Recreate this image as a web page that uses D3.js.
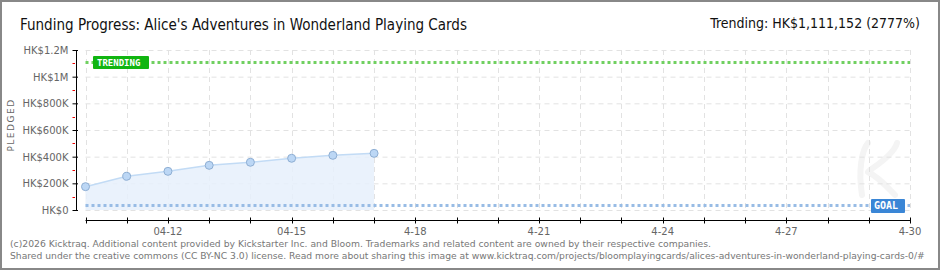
<!DOCTYPE html>
<html>
<head>
    <title>Funding Progress</title>
    <script src="https://d3js.org/d3.v7.min.js"></script>
    <style>
        body { margin: 0; padding: 0; background: #fff; }
        svg { display: block; }
        .title { font-family: 'Liberation Sans Narrow', 'DejaVu Sans Condensed', 'Roboto', sans-serif; font-size: 16px; fill: #111; }
        .axis-label { font-family: 'DejaVu Sans', sans-serif; font-size: 10px; fill: #666; }
        .footer { font-family: 'DejaVu Sans', sans-serif; font-size: 9.5px; fill: #777; }
        .badge { font-family: 'DejaVu Sans Mono', monospace; font-size: 9px; fill: #fff; font-weight: bold; }
    </style>
</head>
<body>
<svg id="chart" width="940" height="270"></svg>
<script>
    // data
    const dates = ["2026-04-10", "2026-04-11", "2026-04-12", "2026-04-13", "2026-04-14", "2026-04-15", "2026-04-16", "2026-04-17"];
    const pledged = [175000, 253000, 290000, 335000, 358000, 388000, 410000, 425000];
    const goal = [40000];
    const trending = [1111152];
    const yTicks = [0, 200000, 400000, 600000, 800000, 1000000, 1200000];
    const yTickLabels = ["HK$0", "HK$200K", "HK$400K", "HK$600K", "HK$800K", "HK$1M", "HK$1.2M"];
    const xLabelDates = ["2026-04-12", "2026-04-15", "2026-04-18", "2026-04-21", "2026-04-24", "2026-04-27", "2026-04-30"];
    const xLabels = ["04-12", "04-15", "4-18", "4-21", "4-24", "4-27", "4-30"];

    const parse = d3.utcParse("%Y-%m-%d");
    const svg = d3.select("#chart");

    // border
    svg.append("rect").attr("x", 1).attr("y", 1).attr("width", 938).attr("height", 268)
        .attr("fill", "#fff").attr("stroke", "#888").attr("stroke-width", 2);

    const x = d3.scaleUtc().domain([parse("2026-04-10"), parse("2026-04-30")]).range([85.5, 910]);
    const y = d3.scaleLinear().domain([0, 1200000]).range([210, 50]);

    const allDays = d3.utcDay.range(parse("2026-04-10"), d3.utcDay.offset(parse("2026-04-30"), 1));

    // faint "K" watermark, drawn as strokes
    svg.append("path")
        .attr("d", "M862,195 C858,170 862,150 868,143 M870,170 C885,160 895,150 897,143 M868,172 C880,178 888,188 895,195")
        .attr("fill", "none").attr("stroke", "#f4f4f4").attr("stroke-width", 6).attr("stroke-linecap", "round");

    // grid
    const grid = svg.append("g");
    grid.selectAll(".hg").data(yTicks).join("line")
        .attr("x1", 85.5).attr("x2", 910)
        .attr("y1", d => y(d) + 0.5).attr("y2", d => y(d) + 0.5)
        .attr("stroke", "#e2e2e2").attr("stroke-dasharray", "5,4");
    grid.selectAll(".vg").data(allDays).join("line")
        .attr("x1", d => Math.round(x(d)) + 0.5).attr("x2", d => Math.round(x(d)) + 0.5)
        .attr("y1", 50).attr("y2", 210)
        .attr("stroke", "#e2e2e2").attr("stroke-dasharray", "5,4");

    // area + line
    const pts = dates.map((d, i) => ({ date: parse(d), value: pledged[i] }));
    svg.append("path").datum(pts)
        .attr("d", d3.area().x(d => x(d.date)).y0(y(0)).y1(d => y(d.value)))
        .attr("fill", "#e6f0fc").attr("opacity", 0.85);
    svg.append("path").datum(pts)
        .attr("d", d3.line().x(d => x(d.date)).y(d => y(d.value)))
        .attr("fill", "none").attr("stroke", "#c2dbf5").attr("stroke-width", 1.5);

    // trending + goal lines
    svg.selectAll(".trend").data(trending).join("line")
        .attr("x1", 85.5).attr("x2", 910)
        .attr("y1", d => Math.round(y(d)) + 0.5).attr("y2", d => Math.round(y(d)) + 0.5)
        .attr("stroke", "#70d060").attr("stroke-width", 3).attr("stroke-dasharray", "3,3");
    svg.selectAll(".goal").data(goal).join("line")
        .attr("x1", 85.5).attr("x2", 910)
        .attr("y1", d => Math.round(y(d)) + 0.5).attr("y2", d => Math.round(y(d)) + 0.5)
        .attr("stroke", "#98bce5").attr("stroke-width", 3).attr("stroke-dasharray", "3,3");

    // points
    svg.selectAll(".pt").data(pts).join("circle")
        .attr("cx", d => x(d.date)).attr("cy", d => y(d.value)).attr("r", 4)
        .attr("fill", "#bcd7f5").attr("stroke", "#8eaed3").attr("stroke-width", 1);

    // badges
    const tY = Math.round(y(trending[0]));
    svg.append("rect").attr("x", 93).attr("y", tY - 6).attr("width", 56).attr("height", 13)
        .attr("rx", 1).attr("fill", "#11b511");
    svg.append("text").attr("class", "badge").attr("x", 97).attr("y", tY + 4).text("TRENDING");
    const gY = Math.round(y(goal[0]));
    svg.append("rect").attr("x", 871).attr("y", gY - 6).attr("width", 34).attr("height", 14)
        .attr("rx", 1).attr("fill", "#3a86d6");
    svg.append("text").attr("class", "badge").attr("x", 874).attr("y", gY + 4).style("font-size", "10px").text("GOAL");

    // y axis
    const yAxis = svg.append("g").attr("transform", "translate(76.5,0)");
    yAxis.append("line").attr("y1", 50).attr("y2", 210.5).attr("stroke", "#000");
    yAxis.selectAll(".yt").data(yTicks).join("line")
        .attr("x1", -4).attr("x2", 1.5)
        .attr("y1", d => y(d) + 0.5).attr("y2", d => y(d) + 0.5).attr("stroke", "#000");
    yAxis.selectAll(".ym").data(yTicks.slice(1)).join("line")
        .attr("x1", -4).attr("x2", -1.5)
        .attr("y1", d => Math.round(y(d - 100000)) + 0.5).attr("y2", d => Math.round(y(d - 100000)) + 0.5)
        .attr("stroke", "#e00");
    yAxis.selectAll(".yl").data(yTicks).join("text")
        .attr("class", "axis-label").attr("x", -8).attr("y", d => y(d) + 4)
        .attr("text-anchor", "end").text((d, i) => yTickLabels[i]);
    svg.append("text").attr("class", "axis-label")
        .attr("transform", "translate(14,125) rotate(-90)").attr("text-anchor", "middle")
        .style("font-size", "9px").style("letter-spacing", "1.5px").text("PLEDGED");

    // x axis
    const xAxis = svg.append("g").attr("transform", "translate(0,220.5)");
    xAxis.append("line").attr("x1", 85.5).attr("x2", 910.5).attr("stroke", "#000");
    xAxis.selectAll(".xt").data(allDays).join("line")
        .attr("x1", d => Math.round(x(d)) + 0.5).attr("x2", d => Math.round(x(d)) + 0.5)
        .attr("y1", -3).attr("y2", 3).attr("stroke", "#000");
    xAxis.selectAll(".xl").data(xLabelDates).join("text")
        .attr("class", "axis-label").attr("x", d => x(parse(d))).attr("y", 14)
        .attr("text-anchor", "middle").text((d, i) => xLabels[i]);

    // titles
    svg.append("text").attr("class", "title").attr("x", 20).attr("y", 30)
        .attr("textLength", 447).attr("lengthAdjust", "spacingAndGlyphs")
        .text("Funding Progress: Alice's Adventures in Wonderland Playing Cards");
    svg.append("text").attr("class", "title").attr("x", 920).attr("y", 28)
        .attr("text-anchor", "end").style("font-size", "14px")
        .text("Trending: HK$1,111,152 (2777%)");

    // footer
    svg.append("text").attr("class", "footer").attr("x", 10).attr("y", 247)
        .attr("textLength", 701).attr("lengthAdjust", "spacingAndGlyphs")
        .text("(c)2026 Kicktraq. Additional content provided by Kickstarter Inc. and Bloom. Trademarks and related content are owned by their respective companies.");
    const foot2 = svg.append("text").attr("class", "footer").attr("x", 10).attr("y", 259)
        .text("Shared under the creative commons (CC BY-NC 3.0) license. Read more about sharing this image at www.kicktraq.com/projects/bloomplayingcards/alices-adventures-in-wonderland-playing-cards-0/#");
    // shrink the long line until it fits inside the border
    let fs = 9.5;
    while (foot2.node().getComputedTextLength() > 916 && fs > 7) {
        fs -= 0.1;
        foot2.style("font-size", fs + "px");
    }
</script>
</body>
</html>
